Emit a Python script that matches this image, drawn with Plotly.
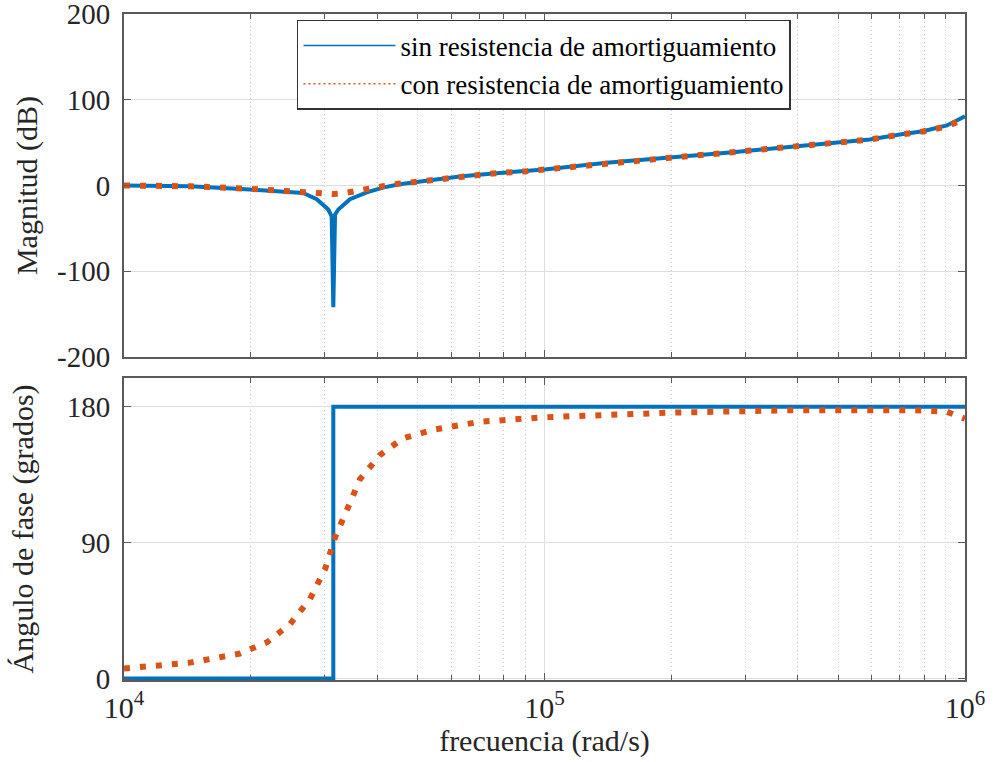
import plotly.graph_objects as go
from plotly.subplots import make_subplots

# ---------------- data ----------------
# magnitude, without damping resistance
freq_mag_sin = [10000, 14360, 19930, 22240, 24370, 26660, 28730, 30610, 31180, 31460,
                31760, 32330, 34470, 37780, 41300, 44830, 53430, 63650, 75440, 90850,
                100000, 140600, 198700, 280500, 398400, 594000, 700000, 794600, 906000, 1000000]
mag_sin = [0, -0.8, -4.7, -6.0, -7.2, -8.8, -16, -28, -36, -142,
           -34, -28, -16, -8.0, -2.5, 1.2, 6.2, 10.9, 14.0, 16.7,
           18.7, 26.4, 32.3, 38.8, 45.8, 53.6, 59.5, 63.3, 70.0, 80.8]

# magnitude, with damping resistance
freq_mag_con = [10000, 14360, 19930, 22240, 24370, 26660, 29250, 31460, 33000, 34790,
                37780, 41300, 44830, 53430, 63650, 75440, 90850, 100000, 140600, 198700,
                280500, 398400, 594000, 700000, 794600, 906000, 1000000]
mag_con = [0, -0.9, -3.9, -5.4, -7.0, -8.5, -9.7, -10.0, -9.4, -7.8,
           -4.0, -0.8, 2.0, 6.2, 10.9, 14.0, 16.7, 18.7, 26.4, 32.3,
           38.8, 45.8, 53.6, 59.3, 63.0, 69.0, 78.0]

# phase, without damping resistance (step at the notch)
freq_ph_sin = [10000, 31460, 1000000]
ph_sin = [0, 180, 180]

# phase, with damping resistance
freq_ph_con = [10000, 14360, 18880, 21880, 24820, 27700, 30070, 31760, 33940, 36420,
               40640, 46040, 54320, 65430, 70260, 100000, 198700, 398400, 754000, 906000,
               1000000]
ph_con = [6.6, 10.5, 16.5, 24, 36, 52.7, 72.5, 93.5, 112, 132,
          148, 159, 164.7, 169, 170, 173, 176, 177.7, 177.7, 176.6,
          172]

labels = ["sin resistencia de amortiguamiento", "con resistencia de amortiguamiento"]
x_tickvals = [1e4, 1e5, 1e6]
x_ticktext = ["10<sup>4</sup>", "10<sup>5</sup>", "10<sup>6</sup>"]
mag_ticks = [-200, -100, 0, 100, 200]
mag_ticktext = ["-200", "-100", "0", "100", "200"]
ph_ticks = [0, 90, 180]

# ---------------- styling ----------------
BLUE = "#0072BD"
ORANGE = "#D95319"
FONT = "Liberation Serif, Times New Roman, serif"
TXT = "#262626"
FRAME = "#5a5a5a"
GRID = "#dedede"
minor_vals = [m * 10 ** e for e in (4, 5) for m in range(2, 10)]

fig = make_subplots(rows=2, cols=1, shared_xaxes=False, vertical_spacing=0.0)

fig.add_trace(go.Scatter(x=freq_mag_sin, y=mag_sin, mode="lines", showlegend=False,
                         line=dict(color=BLUE, width=4)), row=1, col=1)
fig.add_trace(go.Scatter(x=freq_mag_con, y=mag_con, mode="lines", showlegend=False,
                         line=dict(color=ORANGE, width=6, dash="6px,10px")), row=1, col=1)
fig.add_trace(go.Scatter(x=freq_ph_sin, y=ph_sin, mode="lines", showlegend=False,
                         line=dict(color=BLUE, width=4, shape="hv")), row=2, col=1)
fig.add_trace(go.Scatter(x=freq_ph_con, y=ph_con, mode="lines", showlegend=False,
                         line=dict(color=ORANGE, width=6, dash="6px,10px")), row=2, col=1)

# legend-only entries with thin lines
fig.add_trace(go.Scatter(x=[None], y=[None], mode="lines", name=labels[0],
                         line=dict(color=BLUE, width=1.5)), row=1, col=1)
fig.add_trace(go.Scatter(x=[None], y=[None], mode="lines", name=labels[1],
                         line=dict(color=ORANGE, width=1.5, dash="2px,3px")), row=1, col=1)

xcommon = dict(type="log", range=[4, 6], showline=True, linecolor=FRAME, linewidth=2,
               mirror="allticks", ticks="inside", ticklen=7, tickcolor=FRAME,
               tickvals=x_tickvals, ticktext=x_ticktext, automargin=False,
               showgrid=True, gridcolor=GRID, gridwidth=1, zeroline=False,
               tickfont=dict(family=FONT, size=30, color=TXT),
               minor=dict(tickvals=minor_vals, ticks="inside", ticklen=5, tickcolor=FRAME,
                          showgrid=True, gridcolor="#c8c8c8", griddash="1px,3px", gridwidth=1))
ycommon = dict(showline=True, linecolor=FRAME, linewidth=2, mirror="allticks",
               ticks="inside", ticklen=7, tickcolor=FRAME, showgrid=True, automargin=False,
               gridcolor=GRID, gridwidth=1, zeroline=False, ticklabeloverflow="allow",
               tickfont=dict(family=FONT, size=29, color=TXT), ticklabelstandoff=6)

fig.update_xaxes(**xcommon)
fig.update_xaxes(showticklabels=False, domain=[0, 1], row=1, col=1)
fig.update_xaxes(row=2, col=1, domain=[0, 1],
                 title=dict(text="frecuencia (rad/s)", standoff=4,
                            font=dict(family=FONT, size=30, color=TXT)))
fig.update_yaxes(**ycommon)
fig.update_yaxes(row=1, col=1, domain=[0.485, 1.0], range=[-200, 200],
                 tickvals=mag_ticks, ticktext=mag_ticktext,
                 title=dict(text="Magnitud (dB)", standoff=11,
                            font=dict(family=FONT, size=30, color=TXT)))
fig.update_yaxes(row=2, col=1, domain=[0.0, 0.4535], range=[-1, 199],
                 tickvals=ph_ticks,
                 title=dict(text="Ángulo de fase (grados)", standoff=24,
                            font=dict(family=FONT, size=30, color=TXT)))

fig.update_layout(
    width=995, height=762,
    margin=dict(l=124, r=30, t=14, b=82, autoexpand=False),
    paper_bgcolor="white", plot_bgcolor="white",
    font=dict(family=FONT, color=TXT),
    legend=dict(x=0.2057, y=0.991, xanchor="left", yanchor="top",
                bgcolor="white", bordercolor="#333333", borderwidth=1.5,
                font=dict(family=FONT, size=27, color="#000000"),
                itemwidth=92, tracegroupgap=0),
)

fig.write_html("out.html")
